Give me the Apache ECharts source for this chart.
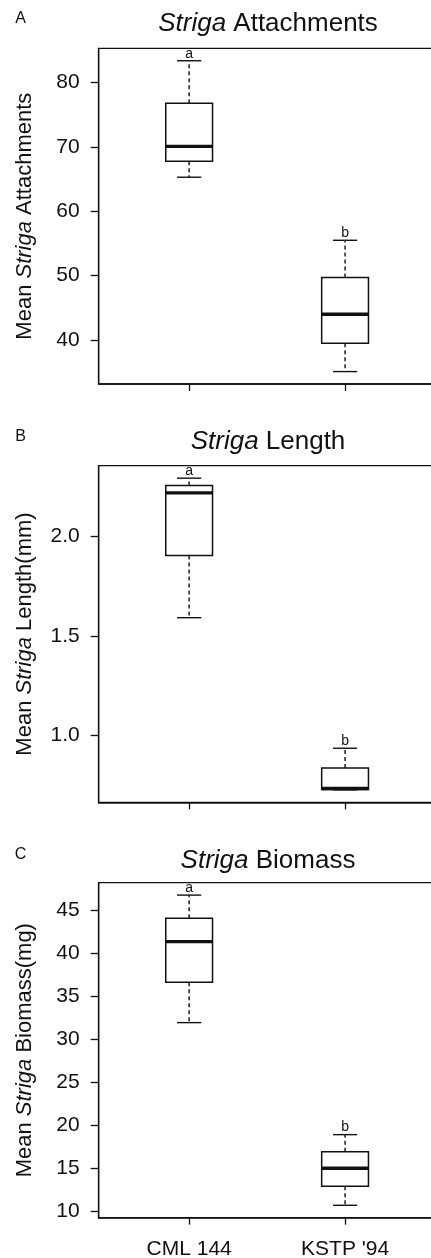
<!DOCTYPE html>
<html><head><meta charset="utf-8">
<script src="https://cdn.jsdelivr.net/npm/echarts@6/dist/echarts.min.js"></script>
<style>html,body{margin:0;padding:0;background:#fff}#c{width:431px;height:1258px}</style>
</head><body><div id="c"></div>
<script>
// ---- data ----
const categories = ['CML 144', "KSTP '94"];
const sigLetters = ['a', 'b'];
// each row: [lower whisker, Q1, median, Q3, upper whisker]
const attachments = [[65.3, 67.8, 70.1, 76.8, 83.4], [35.1, 39.5, 44.0, 49.7, 55.5]];
const lengthMm   = [[1.591, 1.904, 2.218, 2.255, 2.292], [0.726, 0.728, 0.733, 0.836, 0.935]];
const biomass    = [[31.9, 36.6, 41.3, 44.0, 46.7], [10.7, 12.9, 15.0, 16.9, 18.9]];
const ticksA = [40, 50, 60, 70, 80];
const ticksB = [1.0, 1.5, 2.0];
const ticksC = [10, 15, 20, 25, 30, 35, 40, 45];
const panelLetters = ['A', 'B', 'C'];
const titles = ['{i|Striga} Attachments', '{i|Striga} Length', '{i|Striga} Biomass'];
const yNames = ['Mean {i|Striga} Attachments', 'Mean {i|Striga} Length(mm)', 'Mean {i|Striga} Biomass(mg)'];

// ---- layout ----
const FONT = '"Liberation Sans", Arial, Helvetica, sans-serif';
const INK = '#111';
const gridTops = [48.3, 465.7, 882.7];
const gridHeights = [335.7, 336.6, 335];
const titleY = [24, 442, 860.5];
const letterY = [18.7, 436.7, 854.2];
const BOXW = 0.3, CAPW = 0.155;

const datasets = [attachments, lengthMm, biomass];
const tickSets = [ticksA, ticksB, ticksC];
const decimals = [0, 1, 0];

function extent(d) {
  const lo = Math.min(...d.map(r => r[0])), hi = Math.max(...d.map(r => r[4]));
  const pad = (hi - lo) * 0.04;
  return [lo - pad, hi + pad];
}

function renderBox(params, api) {
  const x = api.value(0);
  const v = [1, 2, 3, 4, 5].map(i => api.value(i));
  const ys = v.map(val => api.coord([x, val])[1]);
  const cx = api.coord([x, v[0]])[0];
  const bw = api.size([BOXW, 0])[0];
  const cw = api.size([CAPW, 0])[0];
  const [yLo, yQ1, yMed, yQ3, yHi] = ys;
  const dash = { stroke: INK, lineWidth: 1.4, lineDash: [4, 3] };
  const solid = { stroke: INK, lineWidth: 1.4 };
  return {
    type: 'group',
    children: [
      { type: 'line', shape: { x1: cx, y1: yQ3, x2: cx, y2: yHi }, style: dash },
      { type: 'line', shape: { x1: cx, y1: yQ1, x2: cx, y2: yLo }, style: dash },
      { type: 'line', shape: { x1: cx - cw / 2, y1: yHi, x2: cx + cw / 2, y2: yHi }, style: solid },
      { type: 'line', shape: { x1: cx - cw / 2, y1: yLo, x2: cx + cw / 2, y2: yLo }, style: solid },
      { type: 'rect', shape: { x: cx - bw / 2, y: yQ3, width: bw, height: yQ1 - yQ3 },
        style: { fill: '#fff', stroke: INK, lineWidth: 1.5 } },
      { type: 'line', shape: { x1: cx - bw / 2, y1: yMed, x2: cx + bw / 2, y2: yMed },
        style: { stroke: INK, lineWidth: 3.4 } },
      { type: 'text', x: cx, y: yHi - 7,
        style: { text: sigLetters[params.dataIndex], fontSize: 14, fontFamily: FONT, fill: INK,
                 align: 'center', verticalAlign: 'middle' } }
    ]
  };
}

const grid = [], xAxis = [], yAxis = [], series = [], graphic = [];
for (let p = 0; p < 3; p++) {
  grid.push({ left: 98.7, width: 336.8, top: gridTops[p], height: gridHeights[p],
              outerBoundsMode: 'none', containLabel: false,
              show: true, borderColor: INK, borderWidth: 1.3, backgroundColor: 'transparent' });
  xAxis.push({
    type: 'value', gridIndex: p, min: 0.42, max: 2.58,
    axisLine: { show: true, onZero: false, lineStyle: { color: INK, width: 1.7 } },
    axisTick: { show: true, customValues: [1, 2], length: 7, lineStyle: { color: INK, width: 1.3 } },
    axisLabel: { show: p === 2, customValues: [1, 2], margin: 21,
                 formatter: v => categories[Math.round(v) - 1],
                 fontSize: 21, fontFamily: FONT, color: INK },
    splitLine: { show: false }
  });
  const [mn, mx] = extent(datasets[p]);
  yAxis.push({
    type: 'value', gridIndex: p, min: mn, max: mx,
    name: yNames[p], nameLocation: 'middle', nameGap: 63, nameRotate: 90,
    nameTextStyle: { fontSize: 22, fontFamily: FONT, color: INK,
                     rich: { i: { fontStyle: 'italic', fontSize: 22, fontFamily: FONT, color: INK } } },
    axisLine: { show: true, lineStyle: { color: INK, width: 1.3 } },
    axisTick: { show: true, customValues: tickSets[p], length: 8, lineStyle: { color: INK, width: 1.3 } },
    axisLabel: { customValues: tickSets[p], margin: 19, fontSize: 21, fontFamily: FONT, color: INK,
                 formatter: v => Number(v).toFixed(decimals[p]) },
    splitLine: { show: false }
  });
  series.push({
    type: 'custom', xAxisIndex: p, yAxisIndex: p,
    data: datasets[p].map((r, i) => [i + 1, ...r]),
    encode: { x: 0, y: [1, 2, 3, 4, 5] },
    renderItem: renderBox, silent: true, clip: false
  });
  graphic.push({
    type: 'text', x: 268, y: titleY[p],
    style: { text: titles[p], fontSize: 26, fontFamily: FONT, fill: INK, align: 'center', verticalAlign: 'middle',
             rich: { i: { fontStyle: 'italic', fontSize: 26, fontFamily: FONT, fill: INK } } }
  });
  graphic.push({
    type: 'text', x: 20.5, y: letterY[p],
    style: { text: panelLetters[p], fontSize: 16, fontFamily: FONT, fill: INK, align: 'center', verticalAlign: 'middle' }
  });
}

const chart = echarts.init(document.getElementById('c'), null, { renderer: 'canvas' });
chart.setOption({ animation: false, backgroundColor: '#fff', grid, xAxis, yAxis, series, graphic });
</script></body></html>
